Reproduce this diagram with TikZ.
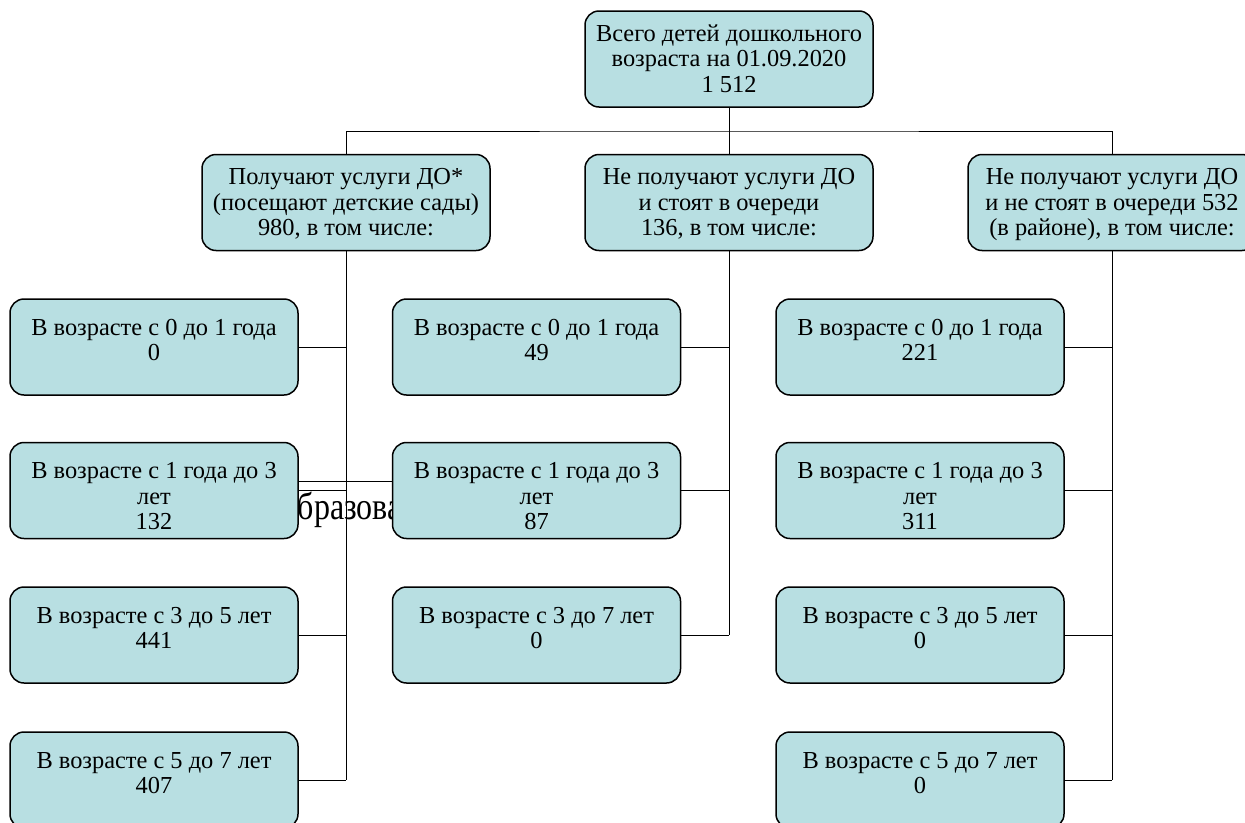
\documentclass[tikz,border=0pt]{standalone}
\usepackage{fontspec}
\setmainfont{Liberation Serif}
\definecolor{boxfill}{RGB}{184,223,226}
\newcommand{\celltext}[2]{\parbox[c][96pt][t]{284pt}{\centering\rule{0pt}{#1}#2}}

\begin{document}
\begin{tikzpicture}[x=1pt, y=-1pt, every node/.style={rectangle, draw=black, line width=1.5pt, rounded corners=14pt, fill=boxfill, inner sep=0pt, minimum width=288pt, minimum height=96pt, font=\fontsize{24.4}{25.7}\selectfont}, link/.style={draw=black, line width=0.8pt}]
			\useasboundingbox (0,0) rectangle (1245,822);
			
			\node[draw=none, fill=none, minimum width=0pt, minimum height=0pt, anchor=base west, font=\fontsize{32}{32}\selectfont] (frag) at (297,519){\scalebox{1}[1.2]{бразова}};
			
			\node (top) at (729,59){\celltext{30pt}{Всего детей дошкольного\\возраста на 01.09.2020\\1 512}};
			\coordinate (bus) at (729,131);
			
			\node (l2a) at (346,202.5){\celltext{30pt}{Получают услуги ДО*\\(посещают детские сады)\\980, в том числе:}};
			\node (l2b) at (729,202.5){\celltext{30pt}{Не получают услуги ДО\\и стоят в очереди\\136, в том числе:}};
			\node (l2c) at (1112,202.5){\celltext{30pt}{Не получают услуги ДО\\и не стоят в очереди 532\\(в районе), в том числе:}};
			
			\node (a1) at (154,347){\celltext{36pt}{В возрасте с 0 до 1 года\\0}};
			\node (a2) at (154,490.5){\celltext{36pt}{В возрасте с 1 года до 3\\лет\\132}};
			\node (a3) at (154,635){\celltext{36pt}{В возрасте с 3 до 5 лет\\441}};
			\node (a4) at (154,780){\celltext{36pt}{В возрасте с 5 до 7 лет\\407}};
			
			\node (b1) at (536.5,347){\celltext{36pt}{В возрасте с 0 до 1 года\\49}};
			\node (b2) at (536.5,490.5){\celltext{36pt}{В возрасте с 1 года до 3\\лет\\87}};
			\node (b3) at (536.5,635){\celltext{36pt}{В возрасте с 3 до 7 лет\\0}};
			
			\node (c1) at (920,347){\celltext{36pt}{В возрасте с 0 до 1 года\\221}};
			\node (c2) at (920,490.5){\celltext{36pt}{В возрасте с 1 года до 3\\лет\\311}};
			\node (c3) at (920,635){\celltext{36pt}{В возрасте с 3 до 5 лет\\0}};
			\node (c4) at (920,780){\celltext{36pt}{В возрасте с 5 до 7 лет\\0}};
			
			\draw[link] (top.south) -- (bus);
			\draw[link] (bus) -- (l2b.north);
			\draw[link] (l2a.north) |- (bus) -| (l2c.north);
			
			\draw[link] (l2a.south) -- (l2a.south |- a4.east);
			\draw[link] (l2b.south) -- (l2b.south |- b3.east);
			\draw[link] (l2c.south) -- (l2c.south |- c4.east);
			
			\foreach \i in {1,...,4} \draw[link] (a\i.east) -- (a\i.east -| l2a.south);
			\foreach \i in {1,...,3} \draw[link] (b\i.east) -- (b\i.east -| l2b.south);
			\foreach \i in {1,...,4} \draw[link] (c\i.east) -- (c\i.east -| l2c.south);
			
			\draw[link] ([yshift=9.5pt]a2.east) -- ([yshift=9.5pt]b2.west);
\end{tikzpicture}
\end{document}
